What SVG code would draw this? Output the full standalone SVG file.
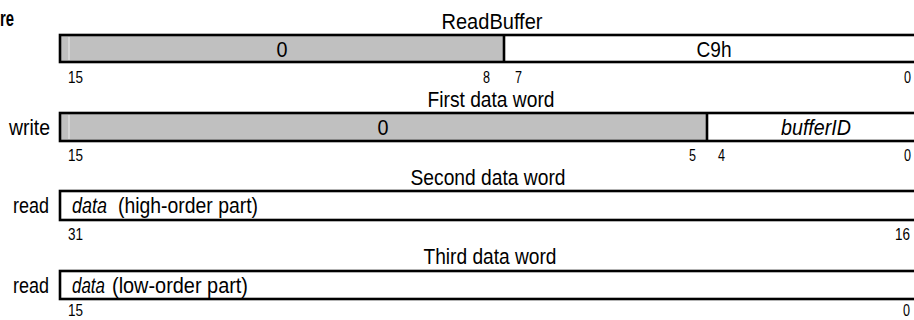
<svg xmlns="http://www.w3.org/2000/svg" width="914" height="320" viewBox="0 0 914 320">
<style>
text{font-family:"Liberation Sans Narrow","Liberation Sans",Arial,sans-serif;fill:#000}
.lbl{font-size:22.5px}
.bit{font-size:16px}
.it{font-style:italic}
.box{fill:none;stroke:#000;stroke-width:2.6}
.gray{fill:#c0c0c0}
.white{fill:#fff}
.div{stroke:#000;stroke-width:2.6}
.hl{stroke:#e4e4e4;stroke-width:1.2}
</style>
<rect width="914" height="320" fill="#fff"/>
<text x="0" y="26" textLength="14" lengthAdjust="spacingAndGlyphs" style="font-family:'Liberation Sans',Arial,sans-serif;font-size:22px;font-weight:bold">re</text>

<g id="word-readbuffer">
  <text class="lbl" x="492" y="29" text-anchor="middle" textLength="101" lengthAdjust="spacingAndGlyphs">ReadBuffer</text>
  <rect class="gray" x="60" y="35" width="444" height="27"/>
  <rect class="white" x="504" y="35" width="420" height="27"/>
  <line class="hl" x1="69" y1="37" x2="69" y2="60"/>
  <rect class="box" x="60" y="35" width="864" height="27"/>
  <line class="div" x1="504" y1="35" x2="504" y2="62"/>
  <text class="lbl" x="282" y="57" text-anchor="middle" textLength="11" lengthAdjust="spacingAndGlyphs">0</text>
  <text class="lbl" x="714" y="57" text-anchor="middle" textLength="35" lengthAdjust="spacingAndGlyphs">C9h</text>
  <text class="bit" x="68" y="83" textLength="15" lengthAdjust="spacingAndGlyphs">15</text>
  <text class="bit" x="490" y="83" text-anchor="end" textLength="7" lengthAdjust="spacingAndGlyphs">8</text>
  <text class="bit" x="515" y="83" textLength="7" lengthAdjust="spacingAndGlyphs">7</text>
  <text class="bit" x="911" y="83" text-anchor="end" textLength="7" lengthAdjust="spacingAndGlyphs">0</text>
</g>

<g id="word-first">
  <text class="lbl" x="491" y="107" text-anchor="middle" textLength="127" lengthAdjust="spacingAndGlyphs">First data word</text>
  <text class="lbl" x="50" y="135" text-anchor="end" textLength="41" lengthAdjust="spacingAndGlyphs">write</text>
  <rect class="gray" x="60" y="113" width="647" height="28"/>
  <rect class="white" x="707" y="113" width="217" height="28"/>
  <line class="hl" x1="69" y1="115" x2="69" y2="139"/>
  <rect class="box" x="60" y="113" width="864" height="28"/>
  <line class="div" x1="707" y1="113" x2="707" y2="141"/>
  <text class="lbl" x="383" y="135" text-anchor="middle" textLength="11" lengthAdjust="spacingAndGlyphs">0</text>
  <text class="lbl it" x="816" y="135" text-anchor="middle" textLength="70" lengthAdjust="spacingAndGlyphs">bufferID</text>
  <text class="bit" x="68" y="161" textLength="15" lengthAdjust="spacingAndGlyphs">15</text>
  <text class="bit" x="696" y="161" text-anchor="end" textLength="7" lengthAdjust="spacingAndGlyphs">5</text>
  <text class="bit" x="718" y="161" textLength="7" lengthAdjust="spacingAndGlyphs">4</text>
  <text class="bit" x="911" y="161" text-anchor="end" textLength="7" lengthAdjust="spacingAndGlyphs">0</text>
</g>

<g id="word-second">
  <text class="lbl" x="488" y="185" text-anchor="middle" textLength="155" lengthAdjust="spacingAndGlyphs">Second data word</text>
  <text class="lbl" x="49" y="213" text-anchor="end" textLength="36" lengthAdjust="spacingAndGlyphs">read</text>
  <rect class="white" x="60" y="191" width="864" height="29"/>
  <rect class="box" x="60" y="191" width="864" height="29"/>
  <text class="lbl it" x="72" y="213" textLength="35" lengthAdjust="spacingAndGlyphs">data</text>
  <text class="lbl" x="118" y="213" textLength="140" lengthAdjust="spacingAndGlyphs">(high-order part)</text>
  <text class="bit" x="68" y="240" textLength="15" lengthAdjust="spacingAndGlyphs">31</text>
  <text class="bit" x="910" y="240" text-anchor="end" textLength="15" lengthAdjust="spacingAndGlyphs">16</text>
</g>

<g id="word-third">
  <text class="lbl" x="490" y="264" text-anchor="middle" textLength="133" lengthAdjust="spacingAndGlyphs">Third data word</text>
  <text class="lbl" x="49" y="293" text-anchor="end" textLength="36" lengthAdjust="spacingAndGlyphs">read</text>
  <rect class="white" x="60" y="271" width="864" height="28"/>
  <rect class="box" x="60" y="271" width="864" height="28"/>
  <text class="lbl it" x="72" y="293" textLength="33" lengthAdjust="spacingAndGlyphs">data</text>
  <text class="lbl" x="112" y="293" textLength="136" lengthAdjust="spacingAndGlyphs">(low-order part)</text>
  <text class="bit" x="68" y="316" textLength="15" lengthAdjust="spacingAndGlyphs">15</text>
  <text class="bit" x="910" y="316" text-anchor="end" textLength="7" lengthAdjust="spacingAndGlyphs">0</text>
</g>

<g id="connectors"></g>
</svg>
